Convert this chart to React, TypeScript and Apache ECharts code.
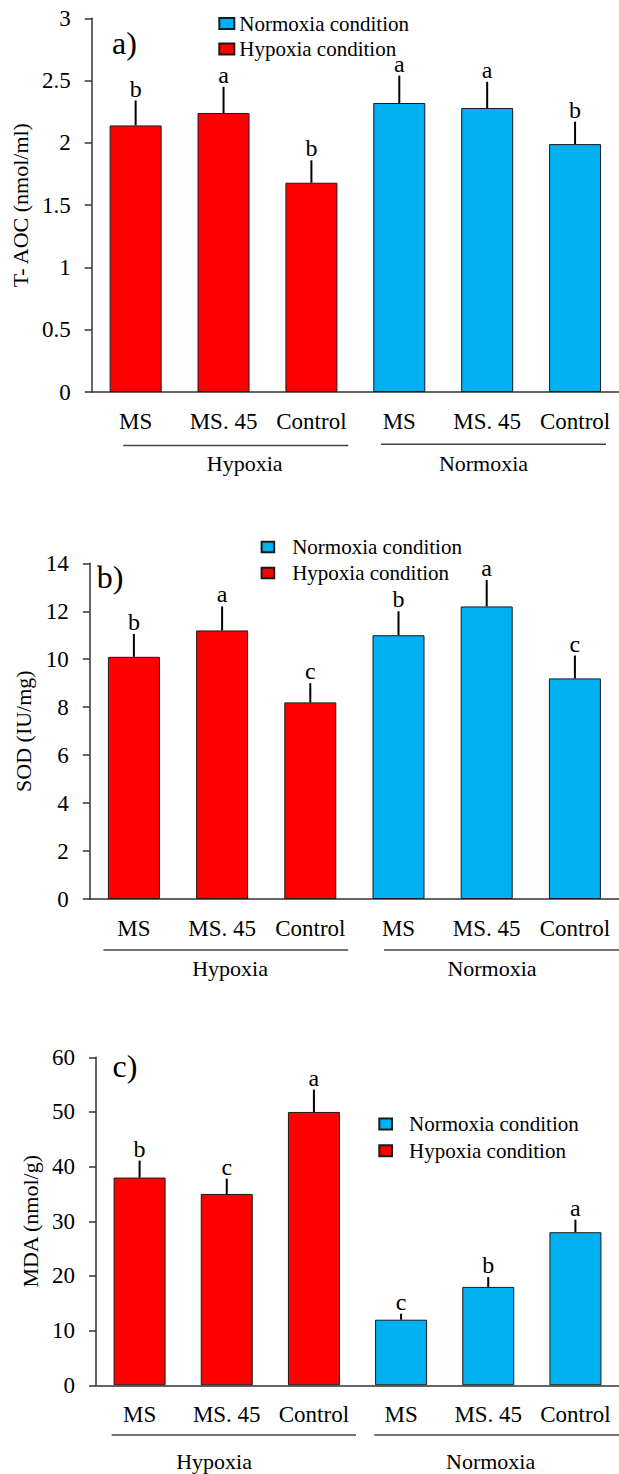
import React, { useEffect, useRef } from "react";
import * as echarts from "echarts";

const categories = ["MS", "MS. 45", "Control", "MS", "MS. 45", "Control"];
const groupNames = ["Hypoxia", "Normoxia"];
const legendNames = ["Normoxia condition", "Hypoxia condition"];

// Panel a: T-AOC
const aocTitle = "T- AOC (nmol/ml)";
const aocMean = [2.14, 2.24, 1.68, 2.32, 2.28, 1.99];
const aocErr = [0.2, 0.21, 0.18, 0.22, 0.21, 0.18];
const aocLetters = ["b", "a", "b", "a", "a", "b"];
const aocAxis = [0, 3, 0.5];

// Panel b: SOD
const sodTitle = "SOD (IU/mg)";
const sodMean = [10.1, 11.2, 8.2, 11.0, 12.2, 9.2];
const sodErr = [0.95, 1.0, 0.8, 1.0, 1.1, 0.95];
const sodLetters = ["b", "a", "c", "b", "a", "c"];
const sodAxis = [0, 14, 2];

// Panel c: MDA
const mdaTitle = "MDA (nmol/g)";
const mdaMean = [38, 35, 50, 12, 18, 28];
const mdaErr = [3.1, 2.8, 4.1, 1.1, 1.8, 2.3];
const mdaLetters = ["b", "c", "a", "c", "b", "a"];
const mdaAxis = [0, 60, 10];

const panelTags = ["a)", "b)", "c)"];

const FONT = "Liberation Serif";
const RED = "#FF0000";
const BLUE = "#00B0F0";
const AXIS = "#333";

const layouts = [
  { grid: { left: 91.7, top: 18.3, width: 533.4, height: 373.7 }, barWidth: 52, nameGap: 55,
    legend: { left: 218.3, top: 13, w: 15, h: 11, gap: 4.5, pad: 0 },
    tag: { x: 112, y: 43 },
    lines: [[123.3, 348.3, 445.5], [381, 606, 444.3]],
    labels: [[244.7, 463.5], [483.5, 463.5]] },
  { grid: { left: 89.8, top: 563.3, width: 535.8, height: 335.7 }, barWidth: 52, nameGap: 55,
    legend: { left: 260.6, top: 536.5, w: 12.6, h: 10.6, gap: 5, pad: 13 },
    tag: { x: 96.7, y: 576.5 },
    lines: [[103.4, 348.2, 950], [384, 625, 950]],
    labels: [[230, 968], [492, 968]] },
  { grid: { left: 96, top: 1057.3, width: 536.4, height: 328 }, barWidth: 52, nameGap: 52,
    legend: { left: 378.3, top: 1113.5, w: 12.7, h: 11, gap: 5.7, pad: 12 },
    tag: { x: 112.5, y: 1066 },
    lines: [[111.7, 356, 1435], [374.3, 625, 1435]],
    labels: [[214, 1461], [490.6, 1461]] },
];

const panels = [
  { title: aocTitle, mean: aocMean, err: aocErr, letters: aocLetters, axis: aocAxis },
  { title: sodTitle, mean: sodMean, err: sodErr, letters: sodLetters, axis: sodAxis },
  { title: mdaTitle, mean: mdaMean, err: mdaErr, letters: mdaLetters, axis: mdaAxis },
];

function buildOption() {
  const grid: any[] = [];
  const xAxis: any[] = [];
  const yAxis: any[] = [];
  const series: any[] = [];
  const legend: any[] = [];
  const graphic: any[] = [];

  panels.forEach((p, i) => {
    const L = layouts[i];
    grid.push({ ...L.grid, containLabel: false });
    xAxis.push({
      type: "category",
      gridIndex: i,
      data: categories,
      axisLine: { lineStyle: { color: AXIS, width: 1.5 } },
      axisTick: { alignWithLabel: true, length: 5, lineStyle: { color: AXIS, width: 1.5 } },
      axisLabel: { interval: 0, margin: 17.5, fontSize: 23, fontFamily: FONT, color: "#000" },
      splitLine: { show: false },
    });
    yAxis.push({
      type: "value",
      gridIndex: i,
      min: p.axis[0],
      max: p.axis[1],
      interval: p.axis[2],
      axisLine: { show: true, lineStyle: { color: AXIS, width: 1.5 } },
      axisTick: { show: true, length: 7, lineStyle: { color: AXIS, width: 1.5 } },
      axisLabel: { margin: 21, fontSize: 23, fontFamily: FONT, color: "#000" },
      splitLine: { show: false },
      name: p.title,
      nameLocation: "middle",
      nameGap: L.nameGap,
      nameTextStyle: { fontSize: 22, fontFamily: FONT, color: "#000" },
    });
    series.push({
      type: "bar",
      name: "Hypoxia condition",
      xAxisIndex: i,
      yAxisIndex: i,
      barWidth: L.barWidth,
      barGap: "-100%",
      data: p.mean.map((v, k) => (k < 3 ? v : "-")),
      itemStyle: { color: RED, borderColor: "#1a1a1a", borderWidth: 1 },
    });
    series.push({
      type: "bar",
      name: "Normoxia condition",
      xAxisIndex: i,
      yAxisIndex: i,
      barWidth: L.barWidth,
      barGap: "-100%",
      data: p.mean.map((v, k) => (k >= 3 ? v : "-")),
      itemStyle: { color: BLUE, borderColor: "#1a1a1a", borderWidth: 1 },
    });
    const letters = p.letters;
    series.push({
      type: "custom",
      name: "err" + i,
      xAxisIndex: i,
      yAxisIndex: i,
      clip: false,
      z: 5,
      data: p.mean.map((m, k) => [k, m, m + p.err[k]]),
      encode: { x: 0, y: [1, 2] },
      renderItem: (params: any, api: any) => {
        const x = api.value(0);
        const p0 = api.coord([x, api.value(1)]);
        const p1 = api.coord([x, api.value(2)]);
        return {
          type: "group",
          children: [
            { type: "line", shape: { x1: p0[0], y1: p0[1], x2: p1[0], y2: p1[1] },
              style: { stroke: "#000", lineWidth: 2 } },
            { type: "text", x: p1[0], y: p1[1],
              style: { text: letters[params.dataIndex], align: "center", verticalAlign: "bottom",
                fontSize: 24, fontFamily: FONT, fill: "#000" } },
          ],
        };
      },
    });
    legend.push({
      data: legendNames,
      orient: "vertical",
      left: L.legend.left,
      top: L.legend.top,
      itemWidth: L.legend.w,
      itemHeight: L.legend.h,
      itemGap: L.legend.gap,
      icon: "rect",
      selectedMode: false,
      padding: 0,
      textStyle: { fontSize: 21, lineHeight: 21, fontFamily: FONT, color: "#000", padding: [0, 0, 0, L.legend.pad] },
    });
    graphic.push({
      type: "text", left: L.tag.x, top: L.tag.y - 16,
      style: { text: panelTags[i], fontSize: 32, fontFamily: FONT, fill: "#000" },
    });
    L.lines.forEach((ln, g) => {
      graphic.push({ type: "line", shape: { x1: ln[0], y1: ln[2], x2: ln[1], y2: ln[2] },
        style: { stroke: "#444", lineWidth: 1.5 } });
      graphic.push({ type: "text", x: L.labels[g][0], y: L.labels[g][1],
        style: { text: groupNames[g], align: "center", verticalAlign: "middle",
          fontSize: 22, fontFamily: FONT, fill: "#000" } });
    });
  });

  return {
    animation: false,
    backgroundColor: "#fff",
    textStyle: { fontFamily: FONT, color: "#000" },
    grid, xAxis, yAxis, series, legend, graphic,
  };
}

export default function App() {
  const ref = useRef<HTMLDivElement>(null);
  useEffect(() => {
    if (!ref.current) return;
    const chart = echarts.init(ref.current, undefined, { renderer: "svg" });
    chart.setOption(buildOption());
    return () => chart.dispose();
  }, []);
  return (
    <div
      ref={ref}
      style={{ position: "absolute", left: 0, top: 0, width: 619, height: 1474, background: "#fff" }}
    />
  );
}
